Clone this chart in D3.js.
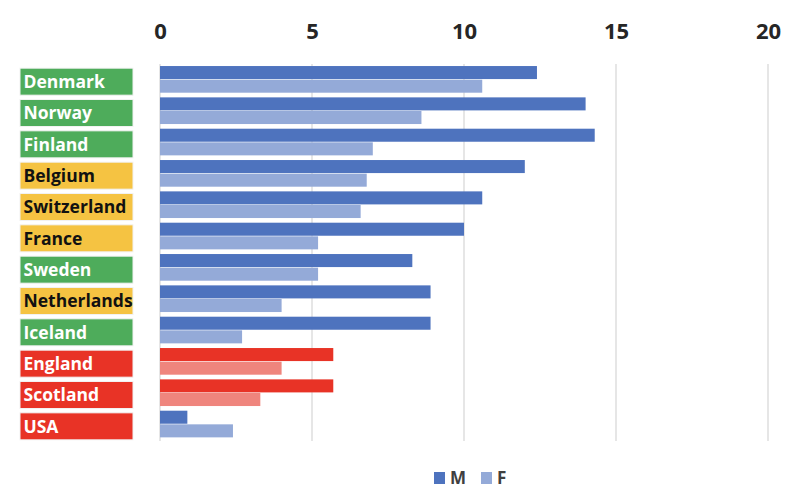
<!DOCTYPE html>
<html><head><meta charset="utf-8">
<script src="https://cdn.jsdelivr.net/npm/d3@7"></script>
<style>body{margin:0;background:#fff}svg{display:block}</style>
</head><body>
<svg id="c" width="807" height="490"></svg>
<script>
const countries = ["Denmark","Norway","Finland","Belgium","Switzerland","France","Sweden","Netherlands","Iceland","England","Scotland","USA"];
const groups = ["green","green","green","yellow","yellow","yellow","green","yellow","green","red","red","red"];
const barPalettes = ["blue","blue","blue","blue","blue","blue","blue","blue","blue","red","red","blue"];
const maleValues = [12.4,14.0,14.3,12.0,10.6,10.0,8.3,8.9,8.9,5.7,5.7,0.9];
const femaleValues = [10.6,8.6,7.0,6.8,6.6,5.2,5.2,4.0,2.7,4.0,3.3,2.4];
const tickValues = [0,5,10,15,20];
const seriesNames = ["M","F"];

const groupFill = {green:"#4EAC5B", yellow:"#F5C342", red:"#E83326"};
const groupText = {green:"#ffffff", yellow:"#111111", red:"#ffffff"};
const barColor = {
  M: p => p==="red" ? "#E83326" : "#4E73BE",
  F: p => p==="red" ? "#EF857D" : "#94AAD8"
};
const FONT = "'Open Sans', Lato, sans-serif";

const svg = d3.select("#c");
const x = d3.scaleLinear().domain([0,20]).range([160,768]);
const y = d3.scaleBand().domain(countries).range([64,440]).paddingInner(0.13).paddingOuter(0.065);
const sub = d3.scaleBand().domain(seriesNames).range([0,y.bandwidth()]).padding(0);

// gridlines
svg.append("g").selectAll("line").data(tickValues).join("line")
  .attr("x1",d=>x(d)).attr("x2",d=>x(d)).attr("y1",64).attr("y2",441)
  .attr("stroke","#d9d9d9").attr("stroke-width",1.3);

// top axis labels
const ax = d3.axisTop(x).tickValues(tickValues).tickSize(0).tickPadding(0);
const axg = svg.append("g").attr("transform","translate(0,39)").call(ax);
axg.select(".domain").remove();
axg.selectAll("text").attr("font-family",FONT).attr("font-weight","bold")
  .attr("font-size","22px").attr("fill","#262626").attr("dy","0");

// bars
const data = countries.map((c,i)=>({c, g:groups[i], p:barPalettes[i], M:maleValues[i], F:femaleValues[i]}));
const rows = svg.append("g").selectAll("g").data(data).join("g")
  .attr("transform",d=>`translate(0,${y(d.c)})`);
seriesNames.forEach(s=>{
  rows.append("rect")
    .attr("x",x(0)).attr("y",sub(s)).attr("height",sub.bandwidth()-0.6)
    .attr("width",d=>x(d[s])-x(0)).attr("fill",d=>barColor[s](d.p));
});

// label boxes
const lab = svg.append("g").selectAll("g").data(data).join("g")
  .attr("transform",d=>`translate(20,${y(d.c)+y.bandwidth()/2+2})`);
lab.append("rect").attr("x",0).attr("y",-13.5).attr("width",113).attr("height",27)
  .attr("fill",d=>groupFill[d.g]).attr("stroke","#f2f2f2").attr("stroke-width",1);
lab.append("text").attr("x",3.5).attr("y",0).attr("dy","0.37em")
  .attr("font-family",FONT).attr("font-weight","bold").attr("font-size","17.5px")
  .attr("fill",d=>groupText[d.g]).text(d=>d.c);

// legend
const legend = svg.append("g").attr("transform","translate(434,478)");
const legItems = [{n:"M",c:"#4E73BE",x:0},{n:"F",c:"#94AAD8",x:47}];
const li = legend.selectAll("g").data(legItems).join("g").attr("transform",d=>`translate(${d.x},0)`);
li.append("rect").attr("x",0).attr("y",-6).attr("width",11).attr("height",12).attr("fill",d=>d.c);
li.append("text").attr("x",16).attr("y",0).attr("dy","0.36em")
  .attr("font-family",FONT).attr("font-weight","bold").attr("font-size","17px")
  .attr("fill","#404040").text(d=>d.n);
</script>
</body></html>
